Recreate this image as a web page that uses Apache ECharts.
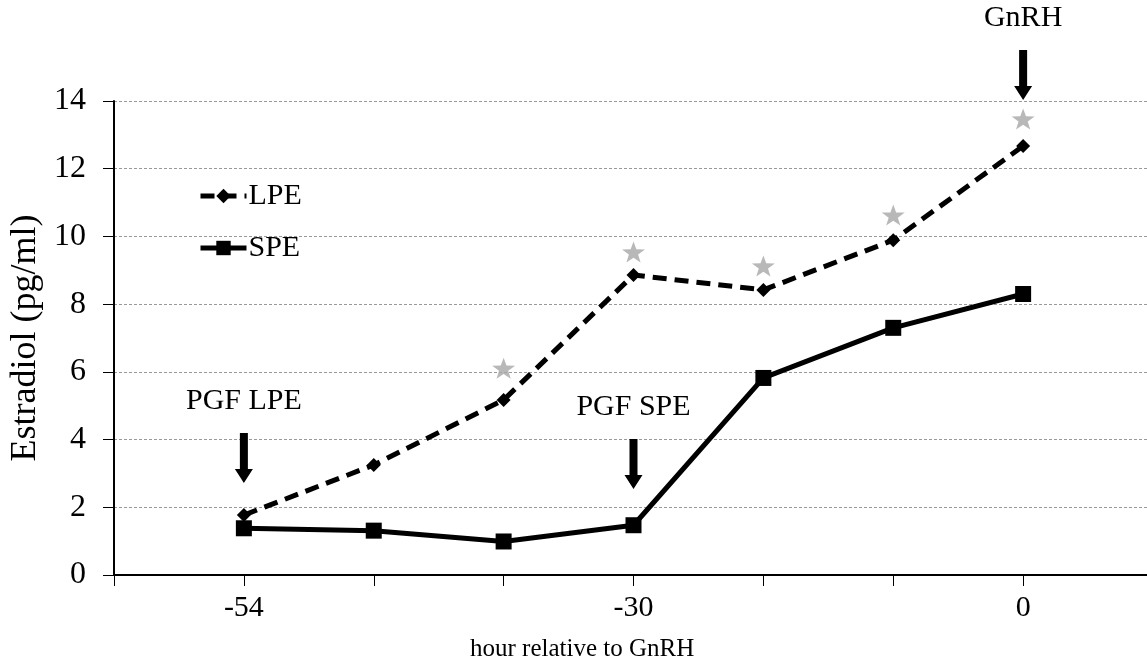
<!DOCTYPE html>
<html>
<head>
<meta charset="utf-8">
<script src="https://cdn.jsdelivr.net/npm/echarts@6/dist/echarts.min.js"></script>
<style>
  html, body { margin: 0; padding: 0; background: #fff; }
  #chart { width: 1147px; height: 664px; }
</style>
</head>
<body>
<div id="chart"></div>
<script>
// hours relative to GnRH, one slot per sampling point (only some are labelled)
const hours = ['', '-54', '', '', '-30', '', '', '0', ''];
const lpe = [null, 1.77, 3.25, 5.17, 8.86, 8.42, 9.89, 12.67, null];
const spe = [null, 1.38, 1.31, 0.99, 1.47, 5.82, 7.30, 8.30, null];
// significance stars above LPE
const stars = [null, null, null, 6.11, 9.54, 9.13, 10.63, 13.47, null];

const yTicks = [0, 2, 4, 6, 8, 10, 12, 14];

// arrow annotations: label, hour, value at arrow tip
const annoLabels = ['PGF LPE', 'PGF SPE', 'GnRH'];
const annoHours = ['-54', '-30', '0'];
const annoTips = [2.72, 2.54, 14.03];

const font = "'Liberation Serif', 'Times New Roman', serif";
const starPath = 'path://M0,-10L2.35,-3.24L9.51,-3.09L3.8,1.24L5.88,8.09L0,4L-5.88,8.09L-3.8,1.24L-9.51,-3.09L-2.35,-3.24Z';

const myChart = echarts.init(document.getElementById('chart'));

const option = {
    animation: false,
    textStyle: { fontFamily: font, color: '#000' },
    title: {
        text: 'hour relative to GnRH',
        left: 465,
        top: 632,
        textStyle: { fontFamily: font, fontSize: 25, fontWeight: 'normal', color: '#000' }
    },
    grid: {
        left: 114,
        right: -6,
        top: 101,
        bottom: 89,
        containLabel: false,
        outerBoundsMode: 'none'
    },
    legend: {
        data: ['LPE', 'SPE'],
        orient: 'vertical',
        left: 193,
        top: 176,
        itemWidth: 46,
        itemHeight: 18,
        itemGap: 22,
        lineStyle: { width: 5 },
        textStyle: { fontFamily: font, fontSize: 30, color: '#000', padding: [0, 0, 0, -3] }
    },
    xAxis: {
        type: 'category',
        data: hours,
        boundaryGap: false,
        axisLine: { lineStyle: { color: '#000', width: 2 } },
        axisTick: { show: true, interval: 0, length: 11, lineStyle: { color: '#000', width: 1 } },
        axisLabel: { interval: 0, margin: 18, fontFamily: font, fontSize: 30, color: '#000' }
    },
    yAxis: {
        type: 'value',
        min: yTicks[0],
        max: yTicks[yTicks.length - 1],
        interval: 2,
        name: 'Estradiol (pg/ml)',
        nameLocation: 'middle',
        nameGap: 68,
        nameTextStyle: { fontFamily: font, fontSize: 36, color: '#000' },
        axisLine: { show: true, lineStyle: { color: '#000', width: 2 } },
        axisTick: { show: true, length: 11, lineStyle: { color: '#000', width: 1 } },
        axisLabel: { margin: 28, fontFamily: font, fontSize: 32, color: '#000' },
        splitLine: { show: true, lineStyle: { color: '#999', width: 1, type: [3, 2] } }
    },
    series: [
        {
            name: 'LPE',
            type: 'line',
            data: lpe,
            symbol: 'diamond',
            symbolSize: 14,
            itemStyle: { color: '#000' },
            lineStyle: { color: '#000', width: 5, type: [14, 8] },
            z: 3
        },
        {
            name: 'SPE',
            type: 'line',
            data: spe,
            symbol: 'rect',
            symbolSize: 16,
            itemStyle: { color: '#000' },
            lineStyle: { color: '#000', width: 5 },
            z: 3
        },
        {
            name: 'sig',
            type: 'scatter',
            data: stars,
            symbol: starPath,
            symbolSize: [23, 21],
            itemStyle: { color: '#a6a6a6' },
            z: 2
        }
    ]
};

myChart.setOption(option);

// arrows + labels placed through the chart's own scales
const graphics = [];
annoLabels.forEach(function (label, i) {
    const p = myChart.convertToPixel({ gridIndex: 0 }, [annoHours[i], annoTips[i]]);
    const x = p[0], y = p[1];
    graphics.push({
        type: 'polygon',
        shape: {
            points: [[x - 4, y - 50], [x + 4, y - 50], [x + 4, y - 14], [x + 9, y - 14],
                     [x, y], [x - 9, y - 14], [x - 4, y - 14]]
        },
        style: { fill: '#000' },
        z: 10
    });
    graphics.push({
        type: 'text',
        x: x,
        y: y - 82,
        style: {
            text: label,
            font: '30px ' + font,
            fill: '#000',
            align: 'center',
            verticalAlign: 'middle'
        },
        z: 10
    });
});
myChart.setOption({ graphic: graphics });
</script>
</body>
</html>
